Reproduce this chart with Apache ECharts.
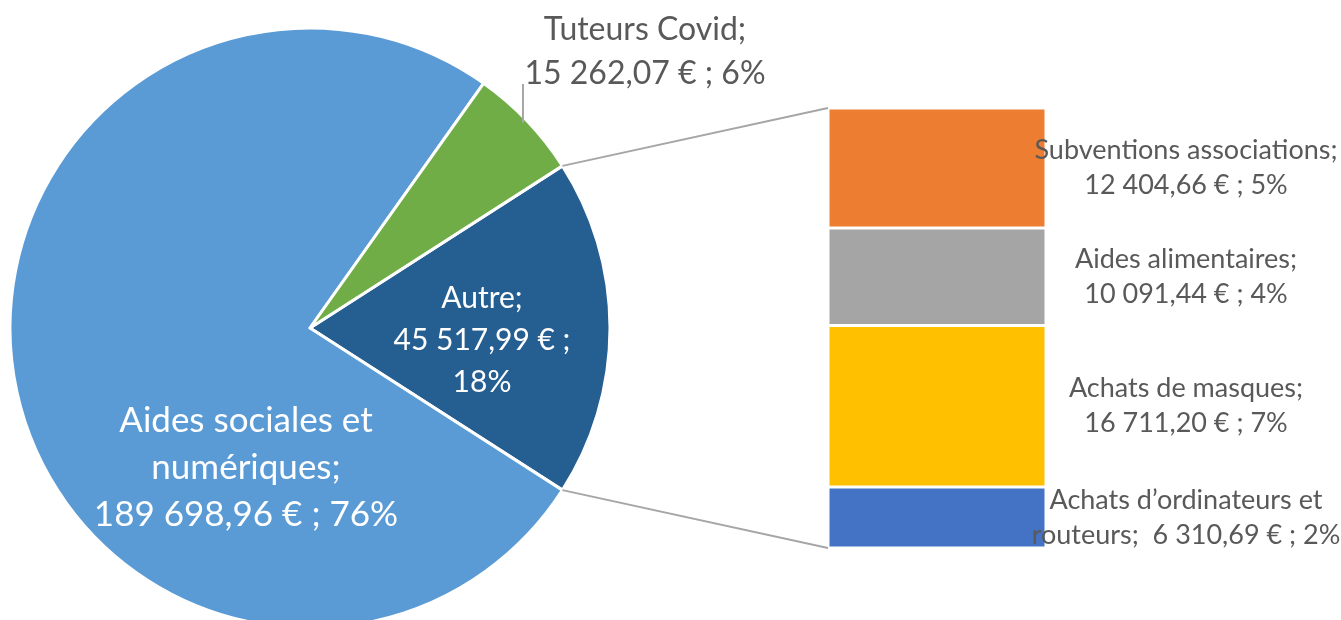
<!DOCTYPE html>
<html>
<head>
<meta charset="utf-8">
<script src="https://cdn.jsdelivr.net/npm/echarts@6/dist/echarts.min.js"></script>
<style>
html, body { margin: 0; background: #fff; }
#chart { width: 1341px; height: 620px; }
</style>
</head>
<body>
<div id="chart"></div>
<script>
// pie part (clockwise from the right-hand slice)
var pieNames = ['Autre', 'Aides sociales et\nnumériques', 'Tuteurs Covid'];
var pieValues = [45517.99, 189698.96, 15262.07];
var pieColors = ['#255E91', '#5B9BD5', '#70AD47'];

// bar part, bottom to top
var barNames = ['Achats d\u2019ordinateurs et\nrouteurs', 'Achats de masques', 'Aides alimentaires', 'Subventions associations'];
var barValues = [6310.69, 16711.20, 10091.44, 12404.66];
var barColors = ['#4472C4', '#FFC000', '#A5A5A5', '#ED7D31'];

var FONT = 'Lato';
var TXT = '#595959';

var total = pieValues.reduce(function (a, b) { return a + b; }, 0);
var autreTotal = barValues.reduce(function (a, b) { return a + b; }, 0);

// percentages rounded so that all of them add up to 100 (like Excel)
var allVals = pieValues.slice(1).concat(barValues);
var pct = (function () {
    var raw = allVals.map(function (v) { return v / total * 100; });
    var fl = raw.map(Math.floor);
    var left = 100 - fl.reduce(function (a, b) { return a + b; }, 0);
    var order = raw.map(function (r, i) { return i; })
        .sort(function (a, b) { return (raw[b] - fl[b]) - (raw[a] - fl[a]); });
    for (var k = 0; k < left; k++) fl[order[k]]++;
    return fl;
})();
function piePct(i) {
    if (i === 0) return Math.round(pieValues[0] / total * 100);
    return pct[i - 1];
}
function barPct(i) { return pct[2 + i]; }

function euro(v) {
    var s = v.toFixed(2).split('.');
    return s[0].replace(/\B(?=(\d{3})+(?!\d))/g, ' ') + ',' + s[1] + ' €';
}

var cx = 310, cy = 328, R = 300;
var half = autreTotal / total * 180;   // half of the "Autre" slice angle

var chart = echarts.init(document.getElementById('chart'));

var barSeries = barValues.map(function (v, i) {
    return {
        type: 'bar',
        name: barNames[i],
        stack: 'autre',
        barWidth: '100%',
        data: [v],
        itemStyle: { color: barColors[i], borderColor: '#fff', borderWidth: 1.5 },
        label: {
            show: true,
            position: 'inside',
            offset: [249, 0],
            color: TXT,
            fontFamily: FONT,
            fontSize: 27,
            lineHeight: 35,
            align: 'center',
            formatter: function () {
                var sep = i === 0 ? '  ' : '\n';
                return barNames[i] + ';' + sep + euro(v) + ' ; ' + barPct(i) + '%';
            }
        }
    };
});

var labelPos = [
    { x: 482, y: 340 },
    { x: 246, y: 468 },
    { x: 645, y: 52 }
];

chart.setOption({
    animation: false,
    grid: { left: 828, top: 108, width: 218, height: 440 },
    xAxis: { type: 'category', data: ['Autre'], show: false },
    yAxis: { type: 'value', min: 0, max: autreTotal, show: false },
    series: [{
        type: 'pie',
        center: [cx, cy],
        radius: R,
        startAngle: half,
        clockwise: true,
        data: pieValues.map(function (v, i) {
            return {
                name: pieNames[i],
                value: v,
                itemStyle: { color: pieColors[i] },
                label: i === 2 ? { position: 'outside', color: TXT, fontSize: 32, lineHeight: 44 }
                     : i === 1 ? { position: 'inside', fontSize: 35, lineHeight: 47 }
                     : { position: 'inside', fontSize: 30, lineHeight: 42 }
            };
        }),
        itemStyle: { borderColor: '#fff', borderWidth: 3 },
        label: {
            show: true,
            color: '#fff',
            fontFamily: FONT,
            align: 'center',
            formatter: function (p) {
                var i = p.dataIndex;
                var sep = i === 0 ? ' ;\n' : ' ; ';
                return pieNames[i] + ';\n' + euro(pieValues[i]) + sep + piePct(i) + '%';
            }
        },
        labelLine: { show: false },
        labelLayout: function (p) {
            var lp = labelPos[p.dataIndex];
            return { x: lp.x, y: lp.y, align: 'center', verticalAlign: 'middle' };
        }
    }].concat(barSeries)
});

// leader of the "Tuteurs Covid" label: straight up from the slice middle
var tutMid = (half + pieValues[2] / total * 180) * Math.PI / 180;
var lx = cx + R * Math.cos(tutMid) - 4;
var ly = cy - Math.sqrt(R * R - (lx - cx) * (lx - cx));

// connector lines from the "Autre" slice edges to the bar corners
var a = half * Math.PI / 180;
var topCorner = chart.convertToPixel({ xAxisIndex: 0, yAxisIndex: 0 }, [0, autreTotal]);
var botCorner = chart.convertToPixel({ xAxisIndex: 0, yAxisIndex: 0 }, [0, 0]);
var gridLeft = 828;
chart.setOption({
    graphic: [
        { type: 'line', shape: { x1: lx, y1: ly + 6, x2: lx, y2: labelPos[2].y + 32 },
          style: { stroke: '#A6A6A6', lineWidth: 2 }, z: 10 },
        { type: 'line', shape: { x1: cx + R * Math.cos(a), y1: cy - R * Math.sin(a), x2: gridLeft, y2: topCorner[1] },
          style: { stroke: '#A6A6A6', lineWidth: 2 }, z: 10 },
        { type: 'line', shape: { x1: cx + R * Math.cos(a), y1: cy + R * Math.sin(a), x2: gridLeft, y2: botCorner[1] },
          style: { stroke: '#A6A6A6', lineWidth: 2 }, z: 10 }
    ]
});
</script>
</body>
</html>
